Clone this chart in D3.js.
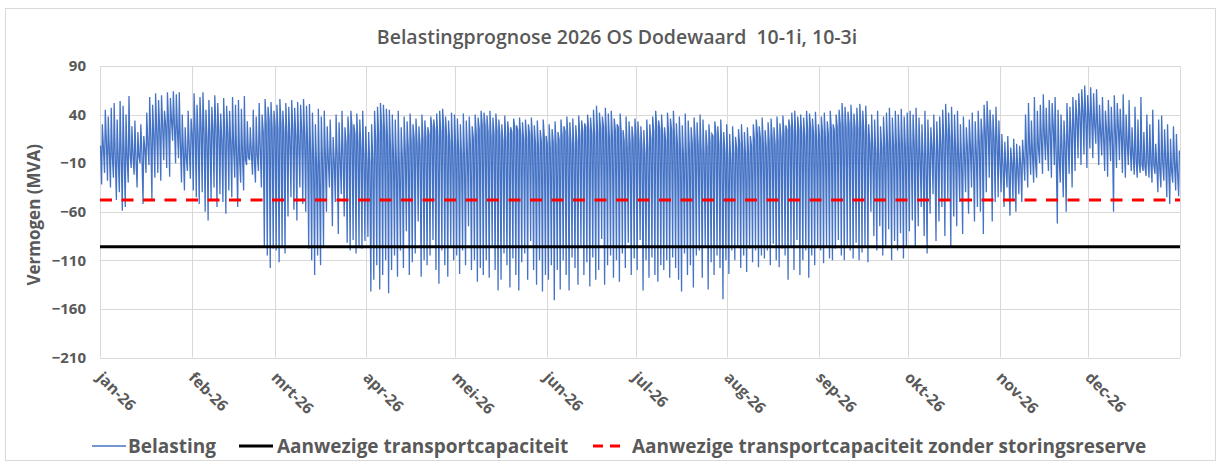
<!DOCTYPE html>
<html>
<head>
<meta charset="utf-8">
<script src="https://cdn.jsdelivr.net/npm/d3@7"></script>
<style>
  body { margin: 0; background: #fff; }
  text { font-family: "Open Sans", "Noto Sans", sans-serif; fill: #595959; }
</style>
</head>
<body>
<svg id="chart" width="1221" height="466"></svg>
<script>
// tick labels
const monthLabels = ["jan-26","feb-26","mrt-26","apr-26","mei-26","jun-26","jul-26","aug-26","sep-26","okt-26","nov-26","dec-26"];
const yTicks = [90, 40, -10, -60, -110, -160, -210];

// horizontal reference lines (MVA)
const capacity = -96;
const capacityNoReserve = -48;

// Belasting, read per day off the picture: evening peak, midday low, night level
const dayHigh = [
  [30,45,38,47,52,35,54,49,40,59,28,34,22,30,18,42,58,50,62,55,60,44,63,57,64,61,63,40,27,44,36],
  [62,50,58,63,45,55,48,60,52,41,57,49,44,58,50,55,46,59,33,27,45,38,52,40,56,48,53,44],
  [50,56,44,52,48,55,47,53,50,56,49,51,42,30,46,38,44,28,35,17,40,32,44,27,38,44,30,41,35,44,28],
  [22,30,44,48,52,50,46,45,40,35,44,27,38,33,41,30,36,28,40,34,27,38,35,41,44,46,38,34,42,40],
  [36,30,41,34,38,28,40,37,44,42,39,44,37,41,35,30,39,33,27,36,29,37,32,35,30,37,29,34,24,35,18],
  [30,25,33,22,35,28,38,32,36,29,39,34,31,40,37,45,49,42,38,47,41,44,36,30,41,24,38,33,28,36],
  [33,28,24,35,30,38,44,34,40,27,42,36,44,31,38,29,41,34,27,37,32,40,35,24,30,20,33,28,35,22,30],
  [20,28,17,25,30,22,27,18,30,35,28,37,24,32,36,27,38,31,39,29,35,42,44,38,40,37,44,41,36,43,30],
  [38,42,33,44,30,40,45,52,48,43,50,41,47,51,44,49,30,40,35,44,28,38,42,47,37,44,40,46,38,42],
  [44,40,47,37,30,44,35,27,40,33,38,45,51,42,48,40,44,30,38,27,35,42,33,44,36,50,54,45,40,48,34],
  [20,12,18,6,15,10,8,14,40,52,34,58,44,50,61,47,55,52,58,45,40,34,52,48,58,55,62,66,70,60],
  [68,62,66,50,58,44,55,48,60,52,46,61,40,55,27,48,35,58,22,40,30,45,10,35,39,25,30,15,28,20,3]
];
const dayLow = [
  [-32,-20,-28,-35,-25,-48,-40,-59,-55,-30,-15,-22,-35,-10,-52,-20,-12,-47,-25,-20,-28,-7,-15,-24,13,-10,-5,-30,-38,-18,-26],
  [-38,-45,-52,-40,-60,-69,-48,-35,-55,-42,-50,-62,-38,-45,-25,-55,-30,-38,-12,-7,-22,-30,-18,-35,-95,-105,-118,-98],
  [-100,-112,-95,-103,-65,-45,-58,-69,-35,-52,-60,-98,-110,-125,-105,-115,-96,-60,-35,-75,-50,-83,-42,-65,-92,-100,-89,-103,-95,-98,-90],
  [-86,-142,-130,-115,-140,-125,-110,-144,-120,-105,-127,-100,-118,-80,-125,-112,-103,-70,-127,-110,-115,-105,-89,-120,-134,-100,-115,-127,-95,-110],
  [-105,-124,-100,-115,-75,-120,-110,-132,-118,-125,-110,-128,-95,-120,-141,-130,-103,-115,-138,-108,-125,-141,-112,-103,-130,-90,-120,-135,-110,-142,-125],
  [-130,-115,-151,-120,-140,-110,-125,-141,-107,-118,-135,-95,-125,-112,-137,-107,-130,-120,-88,-135,-115,-105,-128,-110,-132,-103,-118,-92,-125,-108],
  [-120,-89,-141,-110,-128,-107,-125,-132,-115,-120,-110,-128,-107,-118,-130,-142,-103,-125,-115,-138,-105,-100,-128,-96,-140,-112,-125,-105,-118,-150,-110],
  [-124,-100,-110,-96,-118,-105,-122,-98,-112,-100,-117,-105,-108,-100,-115,-93,-110,-117,-98,-105,-130,-95,-120,-89,-125,-110,-100,-128,-105,-115,-96],
  [-100,-113,-96,-108,-110,-98,-89,-105,-110,-95,-100,-108,-92,-110,-102,-96,-112,-60,-85,-100,-75,-105,-95,-78,-110,-90,-100,-82,-108,-95],
  [-80,-69,-96,-75,-55,-85,-103,-62,-42,-90,-70,-55,-85,-48,-96,-65,-75,-50,-83,-40,-62,-35,-70,-55,-60,-83,-40,-25,-70,-50,-45],
  [-40,-55,-35,-64,-48,-60,-42,-50,-28,-35,-22,-30,-25,-10,-21,-7,-18,-25,-12,-72,-30,-45,-60,-21,-35,-18,-5,-12,-1,-15],
  [5,-5,10,-12,-2,-18,-24,-8,-60,-15,-7,-20,-25,-12,-18,-22,-25,-20,-18,-23,-25,-30,-21,-40,-35,-28,-45,-52,-30,-38,-44]
];
const dayBase = [
  [8,5,10,2,-3,-5,-6,-4,-2,-5,-1,-4,-7,-3,0,5,10,15,18,22,25,28,30,32,34,28,24,10,2,-4,5],
  [20,24,18,26,22,15,20,25,27,22,13,18,20,10,5,-2,-5,-3,-7,-4,-1,-6,-2,5,22,30,34,26],
  [28,24,30,22,20,15,24,18,13,22,16,10,2,-5,-12,-18,-8,-4,-7,-6,-9,-5,-7,-3,10,18,27,20,12,6,-4],
  [-8,-10,-5,13,20,27,22,15,6,-2,-10,-14,-5,2,6,12,16,10,8,14,16,20,27,24,18,22,26,17,12,5],
  [10,4,-2,-4,2,8,16,20,25,30,28,22,17,20,23,18,13,15,20,22,27,24,18,14,16,20,15,10,6,12,16],
  [10,6,12,8,14,18,23,15,10,6,12,18,22,27,24,20,17,22,25,27,20,15,18,24,27,20,12,6,10,15],
  [18,12,5,-1,6,15,22,27,25,18,13,20,24,16,8,4,-2,-4,5,10,13,8,2,-1,6,12,18,20,10,5,2],
  [-4,-7,0,5,10,4,-2,2,8,14,20,16,10,6,12,16,9,13,15,20,24,27,22,18,25,20,17,23,26,20,14],
  [18,22,15,20,25,24,27,30,28,26,30,24,27,25,28,22,18,10,4,-2,-4,5,8,10,6,9,7,10,8,6],
  [6,4,10,2,-2,-5,-7,0,6,-3,2,8,14,20,15,6,2,-4,-7,-2,4,6,-5,0,10,18,24,27,20,15,13],
  [-8,-12,-15,-18,-10,-14,-16,-12,-6,0,5,-2,-8,5,12,18,10,20,27,-2,-5,2,8,15,22,28,35,40,44,38],
  [40,35,30,27,22,18,25,20,15,22,27,18,12,10,5,-2,-7,-10,-12,-14,-8,-10,-12,-14,-16,-10,-8,-15,-18,-12,-20]
];

const svg = d3.select("#chart");
const plotL = 100, plotR = 1180, plotT = 66, plotB = 357.5;

const x = d3.scaleUtc()
  .domain([new Date(Date.UTC(2026, 0, 1)), new Date(Date.UTC(2027, 0, 1))])
  .range([plotL, plotR]);
const y = d3.scaleLinear().domain([-210, 90]).range([plotB, plotT]);

// night -> midday low -> evening peak, for every day
const points = [];
dayHigh.forEach((month, m) => {
  month.forEach((hi, d) => {
    points.push({ t: new Date(Date.UTC(2026, m, d + 1, 4)), v: dayBase[m][d] });
    points.push({ t: new Date(Date.UTC(2026, m, d + 1, 13)), v: dayLow[m][d] });
    points.push({ t: new Date(Date.UTC(2026, m, d + 1, 19)), v: hi });
  });
});

// outer frame
svg.append("rect")
  .attr("x", 5.5).attr("y", 8.5).attr("width", 1210).attr("height", 452)
  .attr("fill", "none").attr("stroke", "#d9d9d9");

// title
svg.append("text")
  .attr("x", 617).attr("y", 44)
  .attr("text-anchor", "middle")
  .style("white-space", "pre")
  .style("font-size", "19.5px").style("font-weight", 600)
  .text("Belastingprognose 2026 OS Dodewaard  10-1i, 10-3i");

// grid
const months = d3.utcMonth.range(x.domain()[0], x.domain()[1]);
const grid = svg.append("g").attr("stroke", "#d9d9d9").attr("stroke-width", 1);
grid.selectAll("line.h").data(yTicks).join("line")
  .attr("x1", plotL).attr("x2", plotR)
  .attr("y1", d => Math.round(y(d)) + 0.5).attr("y2", d => Math.round(y(d)) + 0.5);
grid.selectAll("line.v").data(months.concat([x.domain()[1]])).join("line")
  .attr("y1", plotT).attr("y2", plotB)
  .attr("x1", d => Math.round(x(d)) + 0.5).attr("x2", d => Math.round(x(d)) + 0.5);
// category axis line at 0
svg.append("line")
  .attr("x1", plotL).attr("x2", plotR)
  .attr("y1", Math.round(y(0)) + 0.5).attr("y2", Math.round(y(0)) + 0.5)
  .attr("stroke", "#d9d9d9");

// y axis labels
const yAxis = svg.append("g")
  .attr("transform", `translate(${plotL - 14},0)`)
  .call(d3.axisLeft(y).tickValues(yTicks).tickSize(0).tickPadding(0));
yAxis.select(".domain").remove();
yAxis.selectAll("text")
  .style("font-size", "15px").style("font-weight", 700)
  .style("font-family", "'Open Sans', sans-serif").attr("fill", "#595959");

svg.append("text")
  .attr("transform", `translate(40,${(plotT + plotB) / 2 + 3}) rotate(-90)`)
  .attr("text-anchor", "middle")
  .style("font-size", "17px").style("font-weight", 700)
  .text("Vermogen (MVA)");

// x axis labels, rotated
svg.append("g").selectAll("text").data(months).join("text")
  .attr("transform", d => `translate(${x(d) - 4},${plotB + 21}) rotate(45)`)
  .style("font-size", "15.5px").style("font-weight", 700)
  .text((d, i) => monthLabels[i]);

// series
const line = d3.line().x(d => x(d.t)).y(d => y(d.v));
svg.append("path")
  .datum(points)
  .attr("fill", "none")
  .attr("stroke", "#4472C4")
  .attr("stroke-width", 1.3)
  .attr("d", line);

svg.append("line")
  .attr("x1", plotL).attr("x2", plotR)
  .attr("y1", y(capacity)).attr("y2", y(capacity))
  .attr("stroke", "#000").attr("stroke-width", 3.2);

svg.append("line")
  .attr("x1", plotL).attr("x2", plotR)
  .attr("y1", y(capacityNoReserve)).attr("y2", y(capacityNoReserve))
  .attr("stroke", "#ff0000").attr("stroke-width", 3)
  .attr("stroke-dasharray", "12,9.5");

// legend
const legendItems = [
  { label: "Belasting", color: "#4472C4", width: 1.5, dash: null, x0: 92, x1: 126, tx: 128 },
  { label: "Aanwezige transportcapaciteit", color: "#000", width: 3.2, dash: null, x0: 239, x1: 273, tx: 277 },
  { label: "Aanwezige transportcapaciteit zonder storingsreserve", color: "#ff0000", width: 3, dash: "10,7", x0: 593, x1: 627, tx: 632 }
];
const lg = svg.append("g").selectAll("g").data(legendItems).join("g");
lg.append("line")
  .attr("x1", d => d.x0).attr("x2", d => d.x1)
  .attr("y1", 446).attr("y2", 446)
  .attr("stroke", d => d.color).attr("stroke-width", d => d.width)
  .attr("stroke-dasharray", d => d.dash);
lg.append("text")
  .attr("x", d => d.tx).attr("y", 452.5)
  .style("font-size", "19px").style("font-weight", 700)
  .text(d => d.label);
</script>
</body>
</html>
